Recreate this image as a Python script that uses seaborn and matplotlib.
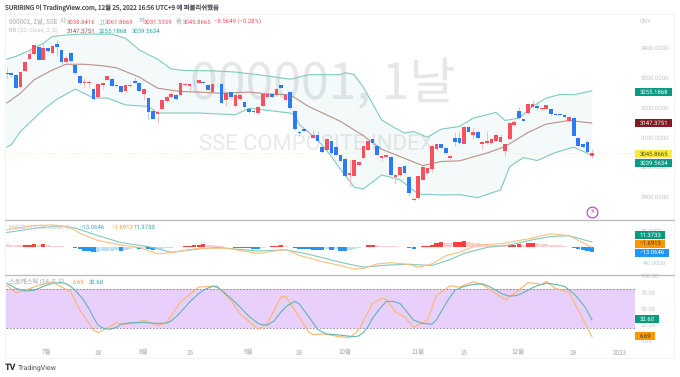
import numpy as np
import pandas as pd
import matplotlib
matplotlib.use('Agg')
import matplotlib.pyplot as plt
from matplotlib.lines import Line2D
from matplotlib.patches import Rectangle
import seaborn as sns

# Candles, one per trading day
opens = [3316, 3314, 3309, 3267, 3323, 3362, 3378, 3401, 3359, 3400,
         3381, 3412, 3390, 3351, 3381, 3341, 3306, 3280, 3280, 3262,
         3234, 3276, 3292, 3296, 3276, 3270, 3253, 3271, 3289, 3283,
         3245, 3231, 3188, 3177, 3195, 3220, 3234, 3241, 3242, 3276,
         3270, 3279, 3283, 3286, 3275, 3251, 3274, 3279, 3223, 3250,
         3203, 3227, 3217, 3195, 3188, 3181, 3205, 3234, 3245, 3240,
         3273, 3223, 3250, 3188, 3119, 3126, 3116, 3098, 3106, 3066,
         3056, 3089, 3067, 3041, 3027, 2975, 2972, 3007, 3032, 3058,
         3094, 3071, 3029, 3035, 3035, 2966, 2974, 3004, 2967, 2890,
         2896, 2958, 2979, 2995, 3061, 3076, 3065, 3029, 3098, 3098,
         3078, 3134, 3109, 3117, 3077, 3081, 3080, 3089, 3084, 3054,
         3095, 3140, 3188, 3160, 3181, 3200, 3204, 3195, 3196, 3195,
         3178, 3178, 3176, 3154, 3164, 3098, 3076, 3084, 3038.8416]
closes = [3312, 3308, 3266, 3317, 3352, 3379, 3409, 3359, 3400, 3387,
          3406, 3403, 3353, 3364, 3355, 3314, 3281, 3283, 3283, 3228,
          3277, 3280, 3304, 3272, 3270, 3250, 3275, 3275, 3282, 3253,
          3261, 3186, 3162, 3186, 3225, 3234, 3246, 3228, 3283, 3279,
          3279, 3277, 3292, 3281, 3259, 3279, 3276, 3214, 3247, 3236,
          3240, 3240, 3201, 3183, 3183, 3201, 3245, 3245, 3235, 3261,
          3265, 3240, 3197, 3127, 3114, 3122, 3118, 3108, 3086, 3049,
          3094, 3047, 3041, 3022, 2972, 2980, 3025, 3016, 3071, 3086,
          3080, 3041, 3036, 3039, 2975, 2975, 2999, 2980, 2913, 2895,
          2969, 3002, 2997, 3071, 3078, 3065, 3047, 3036, 3085, 3080,
          3134, 3118, 3116, 3096, 3085, 3088, 3095, 3107, 3100, 3077,
          3149, 3150, 3164, 3155, 3211, 3212, 3197, 3197, 3207, 3178,
          3176, 3176, 3167, 3167, 3105, 3072, 3067, 3050, 3045.8665]
highs = [3331, 3318, 3311, 3318, 3354, 3392, 3412, 3403, 3414, 3402,
         3410, 3426, 3392, 3370, 3386, 3343, 3308, 3298, 3290, 3264,
         3280, 3284, 3306, 3298, 3278, 3272, 3278, 3277, 3303, 3285,
         3263, 3233, 3190, 3190, 3227, 3238, 3250, 3243, 3285, 3281,
         3282, 3292, 3296, 3288, 3277, 3281, 3279, 3281, 3250, 3252,
         3242, 3243, 3219, 3197, 3190, 3203, 3247, 3248, 3247, 3263,
         3276, 3243, 3253, 3190, 3125, 3128, 3125, 3125, 3120, 3068,
         3097, 3091, 3070, 3045, 3030, 3025, 3028, 3021, 3073, 3088,
         3097, 3074, 3040, 3042, 3037, 2977, 3001, 3007, 2970, 2900,
         2972, 3005, 3000, 3074, 3081, 3079, 3068, 3040, 3116, 3116,
         3137, 3136, 3134, 3120, 3088, 3120, 3098, 3110, 3110, 3082,
         3152, 3158, 3200, 3162, 3214, 3225, 3222, 3199, 3209, 3197,
         3181, 3181, 3178, 3170, 3166, 3100, 3078, 3090, 3061.8669]
lows = [3298, 3300, 3264, 3265, 3321, 3360, 3376, 3357, 3357, 3385,
        3379, 3370, 3337, 3347, 3353, 3312, 3279, 3268, 3265, 3226,
        3232, 3262, 3290, 3270, 3268, 3248, 3251, 3269, 3280, 3251,
        3225, 3156, 3160, 3147, 3193, 3218, 3232, 3226, 3240, 3274,
        3255, 3270, 3281, 3279, 3257, 3249, 3272, 3212, 3203, 3234,
        3201, 3225, 3199, 3181, 3181, 3175, 3203, 3232, 3233, 3238,
        3263, 3221, 3195, 3125, 3103, 3120, 3114, 3096, 3084, 3047,
        3054, 3045, 3039, 3020, 2970, 2936, 2970, 3005, 3030, 3056,
        3078, 3039, 3020, 3033, 2973, 2945, 2972, 2978, 2905, 2888,
        2894, 2956, 2977, 2985, 3059, 3063, 3045, 3025, 3070, 3078,
        3076, 3116, 3095, 3094, 3060, 3079, 3078, 3087, 3082, 3038,
        3093, 3138, 3162, 3153, 3179, 3198, 3190, 3192, 3194, 3176,
        3174, 3174, 3165, 3152, 3103, 3070, 3065, 3048, 3031.5359]

# Bollinger bands, read at the bends of each line
upper_idx = [0, 2, 5, 8, 10, 13, 17, 23, 26, 29, 33, 36, 39, 45, 50, 57, 62, 66, 73, 74,
             76, 78, 82, 85, 87, 89, 92, 95, 99, 102, 107, 109, 112, 115, 118, 121, 124, 128]
upper_vals = [3361, 3370, 3390, 3414, 3437, 3442, 3445, 3445, 3431, 3392, 3361, 3328, 3323,
              3322, 3318, 3305, 3294, 3309, 3309, 3316, 3309, 3267, 3158, 3130, 3114, 3119,
              3100, 3127, 3136, 3164, 3183, 3156, 3164, 3203, 3231, 3243, 3242, 3255.1868]
basis_idx = [0, 3, 6, 10, 13, 17, 21, 24, 29, 33, 38, 42, 47, 53, 57, 62, 66, 73, 78, 82,
             91, 95, 99, 105, 109, 114, 118, 123, 128]
basis_vals = [3214, 3247, 3292, 3325, 3344, 3344, 3339, 3332, 3301, 3264, 3253, 3251, 3247,
              3251, 3245, 3242, 3203, 3153, 3105, 3060, 3005, 3019, 3021, 3047, 3069, 3116,
              3144, 3156, 3147.3751]
lower_idx = [0, 1, 3, 8, 11, 15, 19, 22, 26, 31, 33, 42, 50, 53, 62, 63, 64, 68, 71, 73, 76,
             78, 82, 86, 90, 95, 99, 103, 108, 110, 113, 116, 120, 124, 128]
lower_vals = [3067, 3075, 3119, 3192, 3227, 3261, 3231, 3231, 3208, 3203, 3181, 3181, 3175,
              3197, 3181, 3175, 3142, 3091, 3036, 2993, 2933, 2927, 2974, 2958, 2910, 2907,
              2908, 2898, 2924, 3002, 3032, 3022, 3049, 3067, 3039.5634]

# MACD
macd_idx = [0, 3, 6, 10, 14, 16, 20, 25, 29, 33, 36, 42, 48, 55, 61, 64, 69, 73, 76, 78, 81,
            84, 88, 90, 93, 96, 99, 103, 108, 114, 119, 123, 128]
macd_vals = [41.5, 47, 52, 54, 47, 33, 15, 4, -2, -18, -15, -4, -4, -17, -7, -22, -37, -47,
             -56, -54, -43, -40, -44, -51, -43, -23, -14, 4, 7, 19, 32, 27, -1.6913]
signal_idx = [0, 3, 7, 12, 15, 20, 25, 31, 36, 42, 46, 55, 61, 66, 73, 78, 83, 88, 93, 97,
              100, 105, 110, 115, 119, 123, 128]
signal_vals = [35, 40, 47, 51, 46, 27, 10, 0, -14, -6, -2, -11, -8, -19, -39, -51, -46, -44,
               -47, -32, -17, -2, 4, 17, 25, 27, 11.3733]
hist_vals = [6, 5, 4, 3, 4, 5, 7, 4, 6, 3,
             2, 1, 0.5, -1, -2, -4, -7, -10, -12, -14,
             -13, -12, -11, -10, -8, -11, -8, -6, -4, -6,
             -3, -7, -9, -7, -5, -4, -3, -2, -1, 1,
             2, 3, 4, 6, 4, 3, 2, 1, -1, -2,
             -3, -3.5, -4, -4.5, -5, -6, -3, -1, 1, 2,
             3, 2, -2, -4, -5, -6, -7, -7.5, -8, -9,
             -5, -9, -5, -10, -11, -8, -6, -3, -1, 3,
             4, 3, 2, 2, 1, 1, -1, -1, -3, -5,
             -2, 1, 2, 4, 10, 12, 10, 9, 11, 12,
             14, 12, 10, 8, 6, 5, 4, 3, 2, 1.5,
             3, 5, 6, 4, 8, 10, 8, 7, 6, 5,
             4, 3, 1, -1, -3, -5, -8, -11, -13.0646]

# Stochastic
k_idx = [0, 2, 4, 7, 10, 14, 16, 19, 20, 22, 24, 25, 28, 30, 33, 35, 38, 42, 46, 49, 51, 55,
         57, 60, 61, 63, 66, 67, 69, 73, 75, 77, 80, 82, 83, 85, 87, 89, 92, 94, 97, 99, 102,
         104, 109, 112, 114, 117, 118, 120, 123, 128]
k_vals = [85.7, 74.5, 78, 85.7, 90.8, 75.5, 47.4, 17, 13, 20, 28.6, 25.5, 27.6, 32, 23.5, 28.6,
          60, 83, 84.7, 62.8, 42, 18, 27, 68, 69, 47.4, 14.3, 10, 11, 6.6, 5, 17, 57.7, 66, 64,
          45, 37, 21, 32, 70, 85, 83, 91, 87, 64, 78, 90, 87, 92, 81, 74.5, 6.69]
d_idx = [0, 1, 2, 4, 6, 8, 10, 12, 13, 14, 15, 16.5, 18, 19, 20, 21, 22.5, 24, 25, 27, 30, 33,
         35, 36, 37, 38.5, 40, 42, 43.5, 45, 46, 47, 49, 51, 53, 55, 56, 57, 58.5, 60, 61.5, 63,
         64, 65, 66.5, 68, 69, 70, 73, 76, 77, 78, 79, 80, 81.5, 83, 84.5, 86, 87.5, 89, 91, 93,
         94, 95, 96.5, 98, 100, 102, 104, 105.5, 107, 108.5, 110, 111.5, 113, 115, 116, 118,
         120, 122, 124, 125, 126.5, 128]
d_vals = [89, 85, 81, 77, 78, 84, 89, 90, 88, 84, 78, 66, 50, 36, 24.5, 20, 18, 21, 26, 28,
          28.6, 27, 27.6, 31, 37, 48, 60, 73, 80, 84, 83, 78, 66, 52.5, 38, 27, 25, 24.5, 31,
          45, 55, 61, 57, 47.4, 33, 18, 14, 11, 9, 6.6, 8, 13, 22, 35, 49, 61, 61, 57.7, 45, 32,
          27, 26, 33, 45, 63, 78, 84, 87, 88, 84, 78, 72, 69, 70, 74.5, 82, 85, 89, 87, 84, 73,
          65, 52, 32.60]

# Axis labels
price_ticks = [3400, 3300, 3200, 3100, 3000, 2900]
macd_ticks = [40, -40]
stoch_ticks = [100, 75, 50, 25, 0]
date_pos = [8.8, 20, 30, 40.1, 52.8, 64, 74, 90, 100, 111.8, 123.9, 134]
date_labels = ['7월', '18', '8월', '15', '9월', '19', '10월', '11월', '15', '12월', '19', '2023']

UP = '#f9505f'
DOWN = '#2b7bf6'
TEAL = '#80cabf'
ORANGE = '#fcc07f'
GREY = '#c3c5cb'
KR = 'Noto Sans CJK KR'
W, H = 680, 377

sns.set_style('white')
plt.rcParams['font.family'] = ['Roboto', KR, 'DejaVu Sans']
# small Korean glyphs collide with hinted advances
plt.rcParams['text.hinting'] = 'no_hinting'
plt.rcParams['text.hinting_factor'] = 1

fig = plt.figure(figsize=(W / 100, H / 100), dpi=100, facecolor='white')


def panel(top, bottom):
    a = fig.add_axes([5.5 / W, 1 - bottom / H, (635 - 5.5) / W, (bottom - top) / H])
    a.set_xlim(-0.26, 137.4)
    a.patch.set_alpha(0)
    sns.despine(ax=a, left=True, bottom=True, right=True, top=True)
    a.set_xticks([])
    a.yaxis.tick_right()
    a.tick_params(axis='y', length=0, pad=4, labelsize=4.6, labelcolor=GREY)
    return a


def line(a, xs, ys, color, lw=0.8):
    sns.lineplot(x=xs, y=ys, color=color, linewidth=lw, estimator=None, sort=False, ax=a, zorder=4)


def label(x, y, s, color, size=4.6, **kw):
    fig.text(x / W, 1 - y / H, s, color=color, fontsize=size, va='center', ha='left', **kw)


def badge(y, width, s, bg, fg='white'):
    # labels get pushed apart in the original so these sit by pixel row
    fig.add_artist(Rectangle((635 / W, 1 - (y + 4) / H), width / W, 8 / H, transform=fig.transFigure,
                             fc=bg, ec='none', zorder=5))
    t = fig.text(640 / W, 1 - y / H, s, color=fg, fontsize=4.6, va='center', ha='left')
    t.set_zorder(6)


# Price panel
ax1 = panel(14, 219.5)
ax1.set_ylim(2825, 3512)
ax1.set_yticks(price_ticks, [f'{t:.4f}' for t in price_ticks])
ax1.text(0.293, 0.656, '000001, 1날', transform=ax1.transAxes, fontsize=36, color='#e7e7e9',
         ha='left', va='center', zorder=0, family=KR)
ax1.text(0.307, 0.365, 'SSE COMPOSITE INDEX', transform=ax1.transAxes, fontsize=15.8, color='#e9e9eb',
         ha='left', va='center', zorder=0)
ax1.fill(np.r_[upper_idx, lower_idx[::-1]], np.r_[upper_vals, lower_vals[::-1]],
         color='#26a69a', alpha=0.055, lw=0, zorder=1)
ax1.axhline(closes[-1], color='#fdeeb4', lw=0.7, ls=(0, (1, 1.5)), zorder=2)
line(ax1, upper_idx, upper_vals, TEAL)
line(ax1, lower_idx, lower_vals, TEAL)
line(ax1, basis_idx, basis_vals, '#bb9089')

df = pd.DataFrame({'o': opens, 'c': closes, 'h': highs, 'l': lows})
df['i'] = df.index
df['col'] = np.where(df.c >= df.o, UP, DOWN)
wick_col = np.where(df.c >= df.o, '#fbb0b6', '#a5c4f8')
ax1.vlines(df.i, df.l, df.h, colors=wick_col, lw=0.6, zorder=5)
ax1.bar(df.i, (df.c - df.o).abs(), bottom=df[['o', 'c']].min(axis=1), width=0.8,
        color=df.col, lw=0, zorder=6)

ax1.scatter([128], [2850], s=60, facecolor='white', edgecolor='#ab47bc', linewidth=0.8, zorder=7)
ax1.text(128, 2850, '⚡', color='#ab47bc', fontsize=6, ha='center', va='center', zorder=8)

badge(92, 37, '3255.1868', '#089981')
badge(123, 37, '3147.3751', '#801922')
badge(153.8, 37, '3045.8665', '#ffeb3b', '#4a4a2a')
badge(163, 37, '3039.5634', '#089981')
ax1.text(1.008, 0.965, 'CNY', transform=ax1.transAxes, fontsize=4.6, color=GREY, va='center')

# MACD panel
ax2 = panel(220, 274)
ax2.set_ylim(-68, 66)
ax2.set_yticks(macd_ticks, ['40.0000', '−40.0000'])
hist = pd.DataFrame({'i': range(len(hist_vals)), 'v': hist_vals})
rising = hist.v.diff().fillna(-1) > 0
hist['shade'] = np.select([(hist.v >= 0) & rising, hist.v >= 0, ~rising], ['ru', 'rd', 'bd'], 'bu')
sns.barplot(data=hist, x='i', y='v', hue='shade', native_scale=True, dodge=False, width=0.95,
            palette={'ru': '#f9403e', 'rd': '#fdcdd2', 'bd': '#2196f3', 'bu': '#bbdefb'},
            saturation=1, linewidth=0, legend=False, ax=ax2, zorder=3)
line(ax2, signal_idx, signal_vals, TEAL)
line(ax2, macd_idx, macd_vals, ORANGE)
ax2.set_xlim(-0.26, 137.4)
ax2.set_ylim(-68, 66)
ax2.set_xlabel('')
ax2.set_ylabel('')
ax2.set_xticks([])
badge(235, 30, '11.3733', '#089981')
badge(243.7, 30, '−1.6913', '#ff9800', '#3a3a3a')
badge(252.5, 34, '−13.0646', '#2196f3')

# Stochastic panel
ax3 = panel(275.5, 343)
ax3.set_ylim(-3, 100.8)
ax3.set_yticks(stoch_ticks, [f'{t:.2f}' for t in stoch_ticks])
ax3.axhspan(20, 80, color='#e8cffc', lw=0, zorder=1)
for lvl in (20, 80):
    ax3.axhline(lvl, color='#8d6ea3', lw=0.6, ls=(0, (2, 2)), zorder=2)
line(ax3, k_idx, k_vals, '#fdb56b')
line(ax3, d_idx, d_vals, '#62b5b3')
ax3.set_xticks(date_pos, date_labels, family=KR)
ax3.tick_params(axis='x', length=0, pad=4.5, labelsize=4.6, labelcolor=GREY)
badge(319, 24, '32.60', '#089981')
badge(336, 20, '6.69', '#ff9800', '#3a3a3a')

# Frame and separators
for x0, y0, x1, y1, c, lw in [(5.3, 14, 674, 14, '#f0f3fa', 0.7), (5.3, 358, 674, 358, '#f0f3fa', 0.7),
                              (5.3, 14, 5.3, 358, '#f0f3fa', 0.7), (674, 14, 674, 358, '#f0f3fa', 0.7),
                              (5.3, 219.5, 674, 219.5, '#b8b9bd', 0.9), (5.3, 274.5, 674, 274.5, '#b8b9bd', 0.9)]:
    fig.add_artist(Line2D([x0 / W, x1 / W], [1 - y0 / H, 1 - y1 / H], color=c, lw=lw))

# Header and legends
label(5, 8, 'SURIRING 이 TradingView.com, 12월 25, 2022 16:56 UTC+9 에 퍼블리쉬했음', '#50535e', 4.6, family=KR)
label(9, 22, '000001, 1날, SSE', GREY, family=KR)
for x, s in [(60, '시'), (99, '고'), (138, '저'), (176, '종')]:
    label(x, 22, s, GREY, family=KR)
for x, s in [(67, '3038.8416'), (105, '3061.8669'), (144, '3031.5359'), (183, '3045.8665'),
             (214, '−8.5649 (−0.28%)')]:
    label(x, 22, s, '#f7525f')
label(9, 31, 'BB (20, close, 2, 0)', GREY)
label(67, 31, '3147.3751', '#8a4a42')
label(99, 31, '3255.1868', '#26a69a')
label(132, 31, '3039.5634', '#26a69a')
label(9, 227.7, 'MACD (12, 26, close, 9)', GREY)
label(80, 227.7, '−13.0646', '#42a5f5')
label(111, 227.7, '−1.6913', '#fb9e3a')
label(133, 227.7, '11.3733', '#26a69a')
label(9, 282, '스토캐스틱 (14, 5, 5)', GREY, family=KR)
label(73, 282, '6.69', '#fb9e3a')
label(89, 282, '32.60', '#26a69a')
label(5, 368, 'TV', '#1e222d', 6.5, fontweight='bold')
label(18, 368, 'TradingView', '#50535e', 5.2)

plt.savefig('out.png', dpi=100)
